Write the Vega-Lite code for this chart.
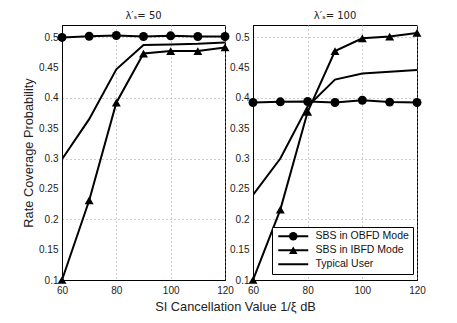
{
  "$schema": "https://vega.github.io/schema/vega-lite/v6.json",
  "padding": {"left": 22, "top": 10, "right": 5, "bottom": 5},
  "background": "white",
  "config": {
    "font": "Liberation Sans",
    "view": {"stroke": "#000000", "strokeWidth": 1},
    "concat": {"spacing": 28},
    "axis": {
      "labelFont": "Liberation Sans",
      "labelFontSize": 10,
      "labelColor": "#222222",
      "labelOverlap": false,
      "labelFlush": false,
      "titleFont": "Liberation Sans",
      "titleFontSize": 12.8,
      "titleFontWeight": "normal",
      "titleColor": "#222222",
      "domain": true,
      "domainColor": "#000000",
      "domainWidth": 1,
      "ticks": false,
      "labelPadding": 4,
      "grid": true,
      "gridColor": "#999999",
      "gridDash": [1, 3],
      "gridWidth": 1
    },
    "title": {"font": "DejaVu Sans", "fontSize": 10, "fontWeight": "normal", "color": "#222222", "offset": 4}
  },
  "bounds": "flush",
  "data": {
    "values": [
      {"panel": "a", "series": "SBS in OBFD Mode", "x": 60, "y": 0.4995},
      {"panel": "a", "series": "SBS in OBFD Mode", "x": 70, "y": 0.5015},
      {"panel": "a", "series": "SBS in OBFD Mode", "x": 80, "y": 0.5027},
      {"panel": "a", "series": "SBS in OBFD Mode", "x": 90, "y": 0.501},
      {"panel": "a", "series": "SBS in OBFD Mode", "x": 100, "y": 0.5022},
      {"panel": "a", "series": "SBS in OBFD Mode", "x": 110, "y": 0.501},
      {"panel": "a", "series": "SBS in OBFD Mode", "x": 120, "y": 0.501},
      {"panel": "a", "series": "SBS in IBFD Mode", "x": 60, "y": 0.1},
      {"panel": "a", "series": "SBS in IBFD Mode", "x": 70, "y": 0.231},
      {"panel": "a", "series": "SBS in IBFD Mode", "x": 80, "y": 0.392},
      {"panel": "a", "series": "SBS in IBFD Mode", "x": 90, "y": 0.473},
      {"panel": "a", "series": "SBS in IBFD Mode", "x": 100, "y": 0.477},
      {"panel": "a", "series": "SBS in IBFD Mode", "x": 110, "y": 0.477},
      {"panel": "a", "series": "SBS in IBFD Mode", "x": 120, "y": 0.483},
      {"panel": "a", "series": "Typical User", "x": 60, "y": 0.299},
      {"panel": "a", "series": "Typical User", "x": 70, "y": 0.365},
      {"panel": "a", "series": "Typical User", "x": 80, "y": 0.447},
      {"panel": "a", "series": "Typical User", "x": 90, "y": 0.487},
      {"panel": "a", "series": "Typical User", "x": 100, "y": 0.488},
      {"panel": "a", "series": "Typical User", "x": 110, "y": 0.489},
      {"panel": "a", "series": "Typical User", "x": 120, "y": 0.491},
      {"panel": "b", "series": "SBS in OBFD Mode", "x": 60, "y": 0.3924},
      {"panel": "b", "series": "SBS in OBFD Mode", "x": 70, "y": 0.3935},
      {"panel": "b", "series": "SBS in OBFD Mode", "x": 80, "y": 0.394},
      {"panel": "b", "series": "SBS in OBFD Mode", "x": 90, "y": 0.3924},
      {"panel": "b", "series": "SBS in OBFD Mode", "x": 100, "y": 0.396},
      {"panel": "b", "series": "SBS in OBFD Mode", "x": 110, "y": 0.393},
      {"panel": "b", "series": "SBS in OBFD Mode", "x": 120, "y": 0.3924},
      {"panel": "b", "series": "SBS in IBFD Mode", "x": 60, "y": 0.1},
      {"panel": "b", "series": "SBS in IBFD Mode", "x": 70, "y": 0.216},
      {"panel": "b", "series": "SBS in IBFD Mode", "x": 80, "y": 0.377},
      {"panel": "b", "series": "SBS in IBFD Mode", "x": 90, "y": 0.477},
      {"panel": "b", "series": "SBS in IBFD Mode", "x": 100, "y": 0.498},
      {"panel": "b", "series": "SBS in IBFD Mode", "x": 110, "y": 0.501},
      {"panel": "b", "series": "SBS in IBFD Mode", "x": 120, "y": 0.507},
      {"panel": "b", "series": "Typical User", "x": 60, "y": 0.24},
      {"panel": "b", "series": "Typical User", "x": 70, "y": 0.3},
      {"panel": "b", "series": "Typical User", "x": 80, "y": 0.386},
      {"panel": "b", "series": "Typical User", "x": 90, "y": 0.43},
      {"panel": "b", "series": "Typical User", "x": 100, "y": 0.44},
      {"panel": "b", "series": "Typical User", "x": 110, "y": 0.443},
      {"panel": "b", "series": "Typical User", "x": 120, "y": 0.446}
    ]
  },
  "resolve": {"scale": {"shape": "independent", "color": "independent"}, "legend": {"shape": "independent", "color": "independent"}},
  "hconcat": [
    {
      "width": 163,
      "height": 255,
      "title": {"text": "λ′ₛ= 50"},
      "transform": [{"filter": "datum.panel === 'a'"}],
      "resolve": {"axis": {"y": "independent"}},
      "encoding": {
        "x": {"field": "x", "type": "quantitative", "scale": {"domain": [60, 120], "nice": false}, "axis": {"values": [60, 80, 100, 120], "tickCount": 20, "labelOverlap": false, "labelFlush": false, "labelPadding": 5, "title": "SI Cancellation Value 1/ξ dB", "titleX": 173, "titlePadding": 5}}
      },
      "layer": [
        {
          "mark": {"type": "line", "color": "black", "strokeWidth": 2, "clip": true},
          "encoding": {
            "y": {"field": "y", "type": "quantitative", "scale": {"domain": [0.1, 0.52], "nice": false, "zero": false}, "axis": {"orient": "left", "values": [0.1, 0.2, 0.3, 0.4, 0.5], "tickCount": 20, "labelOverlap": false, "labelFlush": false, "format": ".2~f", "title": null}},
            "detail": {"field": "series"}
          }
        },
        {
          "transform": [{"filter": "datum.series !== 'Typical User'"}],
          "mark": {"type": "point", "filled": true, "color": "black", "opacity": 1, "clip": false},
          "encoding": {
            "y": {"field": "y", "type": "quantitative", "scale": {"domain": [0.1, 0.52], "nice": false, "zero": false}, "axis": {"orient": "left", "values": [0.15, 0.25, 0.35, 0.45], "tickCount": 20, "labelOverlap": false, "labelFlush": false, "format": ".2~f", "title": "Rate Coverage Probability", "titlePadding": 3}},
            "shape": {"field": "series", "type": "nominal", "scale": {"domain": ["SBS in OBFD Mode", "SBS in IBFD Mode"], "range": ["circle", "triangle-up"]}, "legend": null},
            "size": {"value": 80}
          }
        }
      ]
    },
    {
      "width": 164,
      "height": 255,
      "title": {"text": "λ′ₛ= 100"},
      "transform": [{"filter": "datum.panel === 'b'"}],
      "resolve": {"axis": {"y": "independent"}},
      "encoding": {
        "x": {"field": "x", "type": "quantitative", "scale": {"domain": [60, 120], "nice": false}, "axis": {"values": [60, 80, 100, 120], "tickCount": 20, "labelOverlap": false, "labelFlush": false, "labelPadding": 5, "title": null}}
      },
      "layer": [
        {
          "mark": {"type": "line", "strokeWidth": 2, "clip": true},
          "encoding": {
            "y": {"field": "y", "type": "quantitative", "scale": {"domain": [0.1, 0.52], "nice": false, "zero": false}, "axis": {"orient": "left", "values": [0.1, 0.2, 0.3, 0.4, 0.5], "tickCount": 20, "labelOverlap": false, "labelFlush": false, "format": ".2~f", "title": null}},
            "color": {
              "field": "series", "type": "nominal",
              "scale": {"domain": ["SBS in OBFD Mode", "SBS in IBFD Mode", "Typical User"], "range": ["#000000", "#000000", "#000000"]},
              "legend": {
                "title": null,
                "orient": "none",
                "legendX": 19,
                "legendY": 202,
                "direction": "vertical",
                "strokeColor": "black",
                "fillColor": "white",
                "padding": 4,
                "rowPadding": 3,
                "symbolType": "M-0.75,0H6.75",
                "symbolSize": 64,
                "symbolStrokeWidth": 2,
                "symbolStrokeColor": "black",
                "labelOffset": 29,
                "labelFont": "Liberation Sans",
                "labelFontSize": 10.5,
                "labelColor": "#111111"
              }
            }
          }
        },
        {
          "transform": [{"filter": "datum.series !== 'Typical User'"}],
          "mark": {"type": "point", "filled": true, "color": "black", "opacity": 1, "clip": false},
          "encoding": {
            "y": {"field": "y", "type": "quantitative", "scale": {"domain": [0.1, 0.52], "nice": false, "zero": false}, "axis": {"orient": "left", "values": [0.15, 0.25, 0.35, 0.45], "tickCount": 20, "labelOverlap": false, "labelFlush": false, "format": ".2~f", "title": null}},
            "shape": {
              "field": "series", "type": "nominal",
              "scale": {"domain": ["SBS in OBFD Mode", "SBS in IBFD Mode"], "range": ["circle", "triangle-up"]},
              "legend": {
                "title": null,
                "orient": "none",
                "legendX": 31,
                "legendY": 202,
                "direction": "vertical",
                "padding": 4,
                "rowPadding": 3,
                "symbolSize": 72,
                "symbolFillColor": "black",
                "symbolStrokeWidth": 0,
                "symbolOpacity": 1,
                "labelExpr": "''",
                "labelOffset": 29,
                "labelFont": "Liberation Sans",
                "labelFontSize": 10.5
              }
            },
            "size": {"value": 80}
          }
        }
      ]
    }
  ]
}
